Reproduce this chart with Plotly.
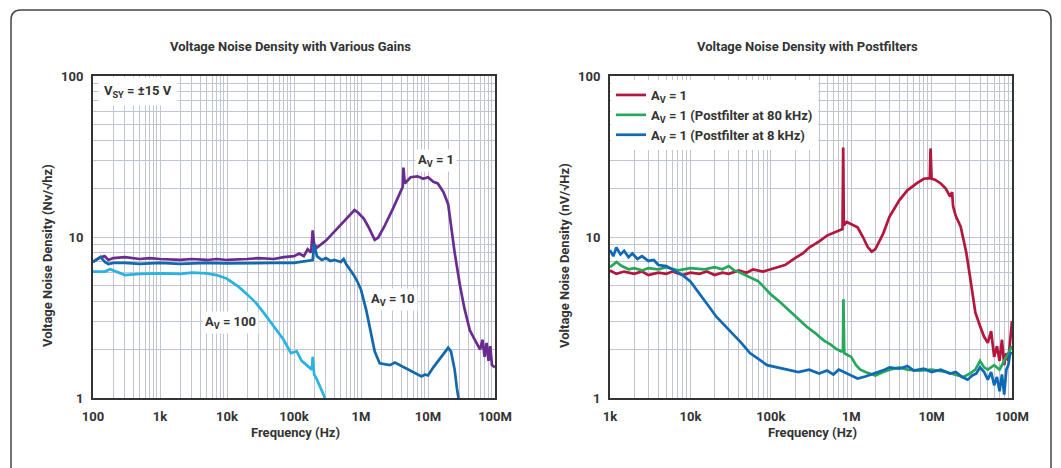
import plotly.graph_objects as go

# ---------------- data ----------------
# Left chart: Voltage Noise Density with Various Gains
f_av1 = [100, 130, 150, 170, 200, 300, 500, 700, 1e3, 2e3, 3e3, 5e3, 7e3, 1e4, 2e4, 3e4, 5e4, 7e4,
         1e5, 1.2e5, 1.4e5, 1.6e5, 1.8e5, 1.9e5, 2.0e5, 2.2e5, 3e5, 4e5, 5e5, 6e5, 7e5, 8e5, 9e5,
         1.1e6, 1.3e6, 1.6e6, 1.8e6, 2.2e6, 3e6, 3.8e6, 4.2e6, 4.3e6, 4.5e6, 5.5e6, 7e6, 8.5e6,
         1e7, 1.2e7, 1.4e7, 1.7e7, 2e7, 2.5e7, 3e7, 3.5e7, 4.2e7, 5e7, 6e7, 6.5e7, 7e7, 7.5e7,
         8e7, 8.5e7, 9e7, 1e8]
v_av1 = [7.0, 7.5, 7.6, 7.2, 7.4, 7.5, 7.3, 7.4, 7.3, 7.2, 7.3, 7.2, 7.3, 7.2, 7.3, 7.4, 7.3, 7.5,
         7.6, 7.9, 7.6, 8.4, 8.0, 11.0, 9.0, 8.6, 9.5, 10.8, 12.0, 13.0, 13.8, 14.7, 14.2,
         13.0, 11.5, 9.6, 9.9, 11.5, 15.0, 18.5, 20.5, 27.0, 21.5, 23.5, 23.8, 23.0,
         23.5, 22.0, 21.5, 19.0, 16.0, 8.0, 5.0, 3.6, 2.64, 2.3, 2.0, 2.3, 1.8, 2.2,
         1.7, 2.1, 1.6, 1.55]

f_av10 = [100, 130, 150, 170, 200, 300, 500, 1e3, 2e3, 5e3, 1e4, 2e4, 5e4, 1e5, 1.5e5, 1.9e5, 2.0e5,
          2.2e5, 2.6e5, 3e5, 3.5e5, 4e5, 5e5, 5.5e5, 6e5, 7e5, 8e5, 9e5, 1e6, 1.2e6, 1.4e6, 1.6e6,
          1.9e6, 2.3e6, 2.7e6, 3.2e6, 4e6, 5e6, 6e6, 7e6, 8e6, 9e6, 1e7, 1.2e7, 1.5e7, 1.8e7, 2e7,
          2.2e7, 2.5e7, 2.7e7, 2.85e7]
v_av10 = [7.0, 7.5, 7.0, 6.8, 6.9, 6.9, 6.8, 6.9, 6.8, 6.9, 6.85, 6.9, 6.9, 6.9, 7.1, 7.2, 9.1,
          7.6, 7.2, 7.4, 7.1, 7.2, 7.0, 7.3, 6.8, 6.2, 5.7, 5.2, 4.7, 3.5, 2.5, 1.95,
          1.64, 1.62, 1.6, 1.66, 1.58, 1.5, 1.45, 1.40, 1.36, 1.40, 1.38, 1.55, 1.75, 1.95, 2.05,
          1.95, 1.5, 1.15, 1.0]

f_av100 = [100, 150, 180, 250, 300, 500, 1e3, 2e3, 3e3, 5e3, 7e3, 1e4, 1.5e4, 2e4, 2.7e4, 3.5e4,
           5e4, 7e4, 9e4, 1.1e5, 1.3e5, 1.5e5, 1.7e5, 1.85e5, 1.9e5, 2e5, 2.2e5, 2.5e5, 2.9e5]
v_av100 = [6.1, 6.1, 6.3, 6.0, 5.8, 5.9, 5.95, 5.9, 6.0, 5.95, 5.8, 5.5, 4.9, 4.4, 3.9, 3.4,
           2.8, 2.3, 1.9, 1.95, 1.7, 1.62, 1.55, 1.5, 1.8, 1.4, 1.3, 1.15, 1.0]

# Right chart: Voltage Noise Density with Postfilters
f_red = [1e3, 1.2e3, 1.5e3, 2e3, 2.5e3, 3e3, 4e3, 5e3, 6e3, 8e3, 1e4, 1.3e4, 1.6e4, 2e4, 2.5e4, 3e4,
         4e4, 5e4, 6e4, 8e4, 1e5, 1.2e5, 1.5e5, 2e5, 2.5e5, 3e5, 4e5, 5e5, 6e5, 7e5, 7.8e5, 7.95e5,
         8.1e5, 8.8e5, 1e6, 1.2e6, 1.4e6, 1.6e6, 1.8e6, 2e6, 2.5e6, 3e6, 4e6, 5e6, 6.5e6, 8e6,
         9.5e6, 9.7e6, 1e7, 1.1e7, 1.3e7, 1.5e7, 1.7e7, 1.8e7, 1.85e7, 2e7, 2.3e7, 2.7e7, 3e7,
         3.5e7, 4e7, 4.5e7, 5e7, 5.5e7, 6e7, 6.5e7, 7e7, 7.5e7, 8e7, 8.5e7, 9e7, 9.5e7, 1e8]
v_red = [6.2, 5.9, 6.1, 5.9, 6.1, 5.8, 6.0, 5.9, 6.1, 5.8, 6.0, 5.9, 6.1, 5.8, 6.0, 5.9,
         6.2, 6.0, 6.3, 6.1, 6.3, 6.5, 6.7, 7.4, 7.9, 8.6, 9.4, 10.2, 10.6, 11.0, 11.2, 36.0,
         11.8, 12.4, 12.0, 11.5, 10.0, 8.7, 8.1, 8.4, 10.5, 13.4, 17.0, 19.5, 21.5, 23.0,
         23.2, 35.5, 23.0, 22.7, 21.5, 20.0, 17.8, 19.0, 15.5, 13.5, 11.6, 8.0, 5.7,
         3.4, 2.8, 2.4, 2.2, 2.6, 1.8, 2.1, 1.7, 2.3, 1.6, 1.9, 1.7, 2.2, 3.0]

f_green = [1e3, 1.2e3, 1.4e3, 1.7e3, 2e3, 2.5e3, 3e3, 4e3, 5e3, 7e3, 1e4, 1.5e4, 2e4, 2.5e4, 3e4,
           3.5e4, 4.2e4, 5e4, 6e4, 7e4, 8.5e4, 1e5, 1.3e5, 1.7e5, 2.2e5, 2.8e5, 3.5e5, 4.5e5, 5.5e5,
           6.5e5, 7.5e5, 7.9e5, 8.0e5, 8.2e5, 9e5, 1e6, 1.15e6, 1.3e6, 1.5e6, 1.8e6, 2e6, 2.5e6,
           3e6, 4e6, 5e6, 7e6, 1e7, 1.5e7, 2e7, 2.5e7, 3e7, 3.5e7, 4e7, 4.5e7, 5e7, 6e7, 7e7,
           8e7, 9e7, 1e8]
v_green = [6.5, 7.0, 6.6, 6.3, 6.4, 6.2, 6.4, 6.3, 6.5, 6.2, 6.4, 6.3, 6.5, 6.3, 6.6,
           6.2, 6.0, 5.75, 5.5, 5.3, 4.8, 4.4, 3.95, 3.5, 3.1, 2.77, 2.55, 2.29, 2.15,
           2.02, 1.95, 1.95, 4.1, 1.9, 1.85, 1.8, 1.6, 1.5, 1.45, 1.4, 1.38, 1.45,
           1.5, 1.55, 1.5, 1.48, 1.5, 1.45, 1.4, 1.35, 1.42, 1.5, 1.7, 1.55, 1.5, 1.6, 1.5,
           1.7, 1.9, 2.1]

f_blue = [1e3, 1.1e3, 1.2e3, 1.35e3, 1.5e3, 1.7e3, 1.9e3, 2.2e3, 2.5e3, 3e3, 3.5e3, 4e3, 5e3, 6e3,
          7e3, 8e3, 1e4, 1.3e4, 1.7e4, 2.1e4, 2.7e4, 3.4e4, 4.3e4, 5.5e4, 7e4, 9e4, 1.2e5, 1.6e5,
          2.2e5, 3e5, 4e5, 5e5, 6e5, 7e5, 8e5, 1e6, 1.2e6, 1.5e6, 1.8e6, 2.2e6, 2.6e6, 3e6, 4e6,
          5e6, 6e6, 8e6, 1e7, 1.3e7, 1.7e7, 2e7, 2.4e7, 2.8e7, 3.2e7, 3.6e7, 4e7, 4.5e7, 5e7,
          5.5e7, 6e7, 6.5e7, 7e7, 7.5e7, 8e7, 8.5e7, 9e7, 9.5e7, 1e8]
v_blue = [8.3, 7.6, 8.6, 7.8, 8.2, 7.5, 7.9, 7.3, 7.6, 7.1, 7.2, 6.7, 6.6, 6.3,
          6.0, 5.8, 5.3, 4.4, 3.7, 3.2, 2.8, 2.5, 2.2, 1.9, 1.75, 1.6, 1.55, 1.5,
          1.45, 1.5, 1.42, 1.48, 1.4, 1.5, 1.45, 1.38, 1.32, 1.36, 1.4, 1.45, 1.5, 1.55, 1.52,
          1.58, 1.48, 1.52, 1.45, 1.5, 1.42, 1.45, 1.35, 1.3, 1.38, 1.42, 1.55, 1.45, 1.3,
          1.45, 1.2, 1.35, 1.1, 1.4, 1.05, 1.5, 1.6, 1.9, 1.9]

x_labels_left = ["100", "1k", "10k", "100k", "1M", "10M", "100M"]
x_labels_right = ["1k", "10k", "100k", "1M", "10M", "100M"]
y_labels = ["1", "10", "100"]

# ---------------- style ----------------
W, H = 1061, 468
FONT = "Roboto"
TXT = "#333333"
GRID = "#bfc5d3"
C_AV1 = "#6a2c90"
C_AV10 = "#1468ac"
C_AV100 = "#29b3e2"
C_RED = "#b3173d"
C_GREEN = "#27a75c"
C_BLUE = "#0f69b4"
LW = 2.7


def px(x):
    return x / W


def py(y):
    return 1 - y / H


def decade_ticks(dec0, dec1):
    return [10 ** d for d in range(dec0, dec1 + 1)]


def minor_ticks(dec0, dec1):
    return [m * 10 ** d for d in range(dec0, dec1) for m in range(2, 10)]


fig = go.Figure()

fig.add_trace(go.Scatter(x=f_av1, y=v_av1, mode="lines", line=dict(color=C_AV1, width=LW),
                         xaxis="x", yaxis="y", showlegend=False))
fig.add_trace(go.Scatter(x=f_av10, y=v_av10, mode="lines", line=dict(color=C_AV10, width=LW),
                         xaxis="x", yaxis="y", showlegend=False))
fig.add_trace(go.Scatter(x=f_av100, y=v_av100, mode="lines", line=dict(color=C_AV100, width=LW),
                         xaxis="x", yaxis="y", showlegend=False))

fig.add_trace(go.Scatter(x=f_red, y=v_red, mode="lines", line=dict(color=C_RED, width=LW),
                         xaxis="x2", yaxis="y2", name="A<sub>V</sub> = 1"))
fig.add_trace(go.Scatter(x=f_green, y=v_green, mode="lines", line=dict(color=C_GREEN, width=LW),
                         xaxis="x2", yaxis="y2", name="A<sub>V</sub> = 1 (Postfilter at 80 kHz)"))
fig.add_trace(go.Scatter(x=f_blue, y=v_blue, mode="lines", line=dict(color=C_BLUE, width=LW),
                         xaxis="x2", yaxis="y2", name="A<sub>V</sub> = 1 (Postfilter at 8 kHz)"))

tickfont = dict(family=FONT, size=13, color=TXT, weight="bold")
common = dict(type="log", showgrid=True, gridcolor=GRID, gridwidth=1, showline=True, mirror=True,
              linecolor="#333333", linewidth=2, ticks="", tickfont=tickfont, automargin=False,
              zeroline=False, tickmode="array")


def minor(dec0, dec1):
    return dict(tickmode="array", tickvals=minor_ticks(dec0, dec1), showgrid=True,
                gridcolor=GRID, gridwidth=1, ticks="")


plot_top, plot_bot = 76, 398
ydom = [py(plot_bot), py(plot_top)]

fig.update_layout(
    width=W, height=H,
    margin=dict(l=0, r=0, t=0, b=0),
    paper_bgcolor="white", plot_bgcolor="white",
    template="none",
    xaxis=dict(common, domain=[px(93), px(495)], range=[2, 8], tickvals=decade_ticks(2, 8),
               ticktext=x_labels_left, minor=minor(2, 8), anchor="y", ticklabelstandoff=5),
    yaxis=dict(common, domain=ydom, range=[0, 2], tickvals=decade_ticks(0, 2), ticktext=y_labels,
               minor=minor(0, 2), anchor="x", ticklabelstandoff=5),
    xaxis2=dict(common, domain=[px(610), px(1012)], range=[3, 8], tickvals=decade_ticks(3, 8),
                ticktext=x_labels_right, minor=minor(3, 8), anchor="y2", ticklabelstandoff=5),
    yaxis2=dict(common, domain=ydom, range=[0, 2], tickvals=decade_ticks(0, 2), ticktext=y_labels,
                minor=minor(0, 2), anchor="x2", ticklabelstandoff=5),
    showlegend=True,
    legend=dict(x=px(611), y=py(80), xanchor="left", yanchor="top", bgcolor="white",
                borderwidth=0, font=dict(family=FONT, size=13, color=TXT, weight="bold"),
                tracegroupgap=0, itemwidth=30),
)

title_font = dict(family=FONT, size=13, color=TXT, weight="bold")
ann = []
ann.append(dict(text="Voltage Noise Density with Various Gains", x=px(290), y=py(47), font=title_font))
ann.append(dict(text="Voltage Noise Density with Postfilters", x=px(807), y=py(47), font=title_font))
ann.append(dict(text="Frequency (Hz)", x=px(295), y=py(432), font=title_font))
ann.append(dict(text="Frequency (Hz)", x=px(812), y=py(432), font=title_font))
ann.append(dict(text="Voltage Noise Density (Nv/√hz)", x=px(47), y=py(256), textangle=-90, font=title_font))
ann.append(dict(text="Voltage Noise Density (nV/√Hz)", x=px(564), y=py(256), textangle=-90, font=title_font))

lab_font = dict(family=FONT, size=13, color=TXT, weight="bold")
ann.append(dict(text="V<sub>SY</sub> = ±15 V", x=px(138), y=py(92), font=lab_font, bgcolor="white",
                borderpad=5))
ann.append(dict(text="A<sub>V</sub> = 1", x=px(436), y=py(160), font=lab_font, bgcolor="white", borderpad=2))
ann.append(dict(text="A<sub>V</sub> = 10", x=px(393), y=py(299), font=lab_font, bgcolor="white", borderpad=2))
ann.append(dict(text="A<sub>V</sub> = 100", x=px(230), y=py(322), font=lab_font, bgcolor="white", borderpad=2))

for a in ann:
    a.update(xref="paper", yref="paper", showarrow=False, xanchor="center", yanchor="middle")
fig.update_layout(annotations=ann)

# rounded outer frame (open at the bottom, as in the reference)
x0, x1, yt0, yb, r = 11, 1051, 10, 490, 10
path = (f"M {px(x0)},{py(yb)} L {px(x0)},{py(yt0 + r)} Q {px(x0)},{py(yt0)} {px(x0 + r)},{py(yt0)} "
        f"L {px(x1 - r)},{py(yt0)} Q {px(x1)},{py(yt0)} {px(x1)},{py(yt0 + r)} L {px(x1)},{py(yb)}")
fig.add_shape(type="path", path=path, xref="paper", yref="paper",
              line=dict(color="#444444", width=1.5), layer="below")

fig.write_html("out.html")
